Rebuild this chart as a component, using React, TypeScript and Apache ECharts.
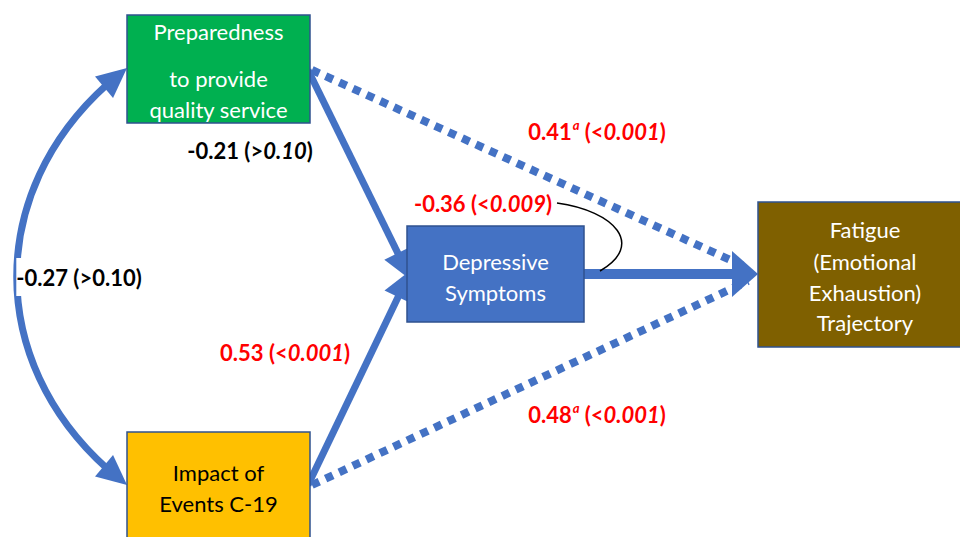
import React, { useEffect, useRef } from 'react';
import * as echarts from 'echarts';

// ---------- diagram data (in diagram units, 960 x 537 space) ----------
const nodeLines: string[][] = [
  ['Preparedness', 'to provide', 'quality service'],
  ['Impact of', 'Events C-19'],
  ['Depressive', 'Symptoms'],
  ['Fatigue', '(Emotional', 'Exhaustion)', 'Trajectory'],
];
const nodeLineY: number[][] = [
  [31, 78, 109],
  [472, 503],
  [261, 292],
  [229, 261, 292, 322],
];
const nodeBox: number[][] = [
  [127, 15, 310, 123],
  [127, 432, 310, 548],
  [407, 226, 584, 322],
  [758, 202, 970, 347],
];

// structural paths (start, end) and the covariance curve
const directPaths: number[][] = [
  [308, 70, 411, 280],
  [308, 485, 411, 270],
  [584, 274, 758, 274],
];
const indirectPaths: number[][] = [
  [312, 70, 748, 268],
  [312, 485, 748, 281],
];
const covCurve: number[][] = [[127, 68, -20, 180, -20, 373, 127, 485]];
const noteCurve: number[][] = [[557, 203, 615, 211, 645, 245, 600, 271]];

// coefficient labels
const coefText = ['-0.21', '-0.27', '0.41', '-0.36', '0.53', '0.48'];
const coefSup = ['', '', 'a', '', '', 'a'];
const pSign = ['>', '>', '<', '<', '<', '<'];
const pValue = ['0.10', '0.10', '0.001', '0.009', '0.001', '0.001'];
const pValueItalic = [true, false, true, true, true, true];
const coefSignificant = [false, false, true, true, true, true];
const labelAt: number[][] = [
  [250, 150],
  [79, 277],
  [597, 131],
  [483, 203],
  [285, 352],
  [597, 414],
];

// ---------- styles ----------
const nodeFill = ['#00B050', '#FFC000', '#4472C4', '#7F6000'];
const nodeTextColor = ['#FFFFFF', '#000000', '#FFFFFF', '#FFFFFF'];
const BLUE = '#4472C4';
const directWidth = [7, 7, 10];
const directArrow = [[30, 15], [30, 15], [26, 23]];
const FONT = 'Lato, "Open Sans", sans-serif';
const LABEL_SIZE = 22;

type Pt = number[];

function arrowHead(tip: Pt, from: Pt, len: number, hw: number, color: string) {
  const dx = tip[0] - from[0];
  const dy = tip[1] - from[1];
  const L = Math.hypot(dx, dy) || 1;
  const ux = dx / L, uy = dy / L;
  const bx = tip[0] - ux * len, by = tip[1] - uy * len;
  const px = -uy, py = ux;
  return {
    type: 'polygon',
    shape: { points: [[tip[0], tip[1]], [bx + px * hw, by + py * hw], [bx - px * hw, by - py * hw]] },
    style: { fill: color },
  };
}

function splitCubic(p: Pt[], t: number): [Pt[], Pt[]] {
  const lerp = (a: Pt, b: Pt) => [a[0] + (b[0] - a[0]) * t, a[1] + (b[1] - a[1]) * t];
  const [p0, p1, p2, p3] = p;
  const p01 = lerp(p0, p1), p12 = lerp(p1, p2), p23 = lerp(p2, p3);
  const p012 = lerp(p01, p12), p123 = lerp(p12, p23);
  const m = lerp(p012, p123);
  return [[p0, p01, p012, m], [m, p123, p23, p3]];
}

function cubicAt(p: Pt[], t: number): Pt {
  const mt = 1 - t;
  const a = mt * mt * mt, b = 3 * mt * mt * t, c = 3 * mt * t * t, d = t * t * t;
  return [
    a * p[0][0] + b * p[1][0] + c * p[2][0] + d * p[3][0],
    a * p[0][1] + b * p[1][1] + c * p[2][1] + d * p[3][1],
  ];
}

function findT(p: Pt[], fromEnd: boolean, dist: number): number {
  const ref = fromEnd ? p[3] : p[0];
  for (let i = 1; i <= 400; i++) {
    const t = fromEnd ? 1 - i / 400 : i / 400;
    const q = cubicAt(p, t);
    if (Math.hypot(q[0] - ref[0], q[1] - ref[1]) >= dist) return t;
  }
  return fromEnd ? 0 : 1;
}

function bezierShape(p: Pt[]) {
  return {
    x1: p[0][0], y1: p[0][1], cpx1: p[1][0], cpy1: p[1][1],
    cpx2: p[2][0], cpy2: p[2][1], x2: p[3][0], y2: p[3][1],
  };
}

function labelRich(i: number): string {
  const c = coefSignificant[i] ? 'r' : 'k';
  let s = `{${c}|${coefText[i]}}`;
  if (coefSup[i]) s += `{${c}s|${coefSup[i]}}`;
  s += `{${c}| (${pSign[i]}}`;
  s += `{${c}${pValueItalic[i] ? 'i' : ''}|${pValue[i]}}`;
  s += `{${c}|)}`;
  return s;
}

const richStyles: any = {};
[['r', '#FF0000'], ['k', '#000000']].forEach(([k, col]) => {
  richStyles[k] = { fill: col, fontFamily: FONT, fontWeight: 'bold', fontSize: LABEL_SIZE, lineHeight: 28 };
  richStyles[k + 'i'] = {
    fill: col, fontFamily: FONT, fontWeight: 'bold', fontStyle: 'italic', fontSize: LABEL_SIZE, lineHeight: 28,
  };
  richStyles[k + 's'] = {
    fill: col, fontFamily: FONT, fontWeight: 'bold', fontStyle: 'italic', fontSize: 13,
    lineHeight: 28, verticalAlign: 'top', padding: [1, 0, 0, 1],
  };
});

export default function App() {
  const ref = useRef<HTMLDivElement>(null);

  useEffect(() => {
    if (!ref.current) return;
    const chart = echarts.init(ref.current, undefined, { renderer: 'svg' });

    const option: any = {
      animation: false,
      backgroundColor: '#FFFFFF',
      grid: { left: 0, right: 0, top: 0, bottom: 0 },
      xAxis: { type: 'value', min: 0, max: 960, show: false },
      yAxis: { type: 'value', min: 0, max: 537, inverse: true, show: false },
      series: [
        // indirect (dotted) paths
        {
          type: 'custom',
          coordinateSystem: 'cartesian2d',
          clip: false,
          z: 1,
          data: indirectPaths,
          renderItem: (params: any, api: any) => {
            const a = api.coord([api.value(0), api.value(1)]);
            const b = api.coord([api.value(2), api.value(3)]);
            return {
              type: 'line',
              shape: { x1: a[0], y1: a[1], x2: b[0], y2: b[1] },
              style: { stroke: BLUE, lineWidth: 8, lineDash: [8, 7], lineCap: 'butt' },
            };
          },
        },
        // direct (solid) paths with arrowheads
        {
          type: 'custom',
          coordinateSystem: 'cartesian2d',
          clip: false,
          z: 2,
          data: directPaths,
          renderItem: (params: any, api: any) => {
            const i = params.dataIndex;
            const a = api.coord([api.value(0), api.value(1)]);
            const b = api.coord([api.value(2), api.value(3)]);
            const [len, hw] = directArrow[i];
            const L = Math.hypot(b[0] - a[0], b[1] - a[1]);
            const k = (L - len * 0.8) / L;
            const e = [a[0] + (b[0] - a[0]) * k, a[1] + (b[1] - a[1]) * k];
            return {
              type: 'group',
              children: [
                {
                  type: 'line',
                  shape: { x1: a[0], y1: a[1], x2: e[0], y2: e[1] },
                  style: { stroke: BLUE, lineWidth: directWidth[i] },
                },
                arrowHead(b, a, len, hw, BLUE),
              ],
            };
          },
        },
        // covariance double-headed curve
        {
          type: 'custom',
          coordinateSystem: 'cartesian2d',
          clip: false,
          z: 2,
          data: covCurve,
          renderItem: (params: any, api: any) => {
            const p: Pt[] = [0, 1, 2, 3].map((j) => api.coord([api.value(2 * j), api.value(2 * j + 1)]));
            const len = 30, hw = 14;
            const t0 = findT(p, false, len * 0.85);
            const t1 = findT(p, true, len * 0.85);
            const right = splitCubic(p, t0)[1];
            const mid = splitCubic(right, (t1 - t0) / (1 - t0))[0];
            const s0 = cubicAt(p, findT(p, false, len));
            const s1 = cubicAt(p, findT(p, true, len));
            return {
              type: 'group',
              children: [
                {
                  type: 'bezierCurve',
                  shape: bezierShape(mid),
                  style: { stroke: BLUE, lineWidth: 7, fill: 'none' },
                },
                arrowHead(p[0], s0, len, hw, BLUE),
                arrowHead(p[3], s1, len, hw, BLUE),
              ],
            };
          },
        },
        // boxes
        {
          type: 'custom',
          coordinateSystem: 'cartesian2d',
          clip: false,
          z: 3,
          data: nodeBox,
          renderItem: (params: any, api: any) => {
            const i = params.dataIndex;
            const a = api.coord([api.value(0), api.value(1)]);
            const b = api.coord([api.value(2), api.value(3)]);
            const cx = (a[0] + b[0]) / 2;
            const children: any[] = [
              {
                type: 'rect',
                shape: { x: a[0], y: a[1], width: b[0] - a[0], height: b[1] - a[1] },
                style: { fill: nodeFill[i], stroke: '#2F528F', lineWidth: 1.5 },
              },
            ];
            nodeLines[i].forEach((txt, j) => {
              const y = api.coord([0, nodeLineY[i][j]])[1];
              children.push({
                type: 'text',
                x: i === 3 ? api.coord([865, 0])[0] : cx,
                y,
                style: {
                  text: txt,
                  fill: nodeTextColor[i],
                  fontFamily: FONT,
                  fontSize: 22,
                  align: 'center',
                  verticalAlign: 'middle',
                },
              });
            });
            return { type: 'group', children };
          },
        },
        // connector curve for the mediated effect label
        {
          type: 'custom',
          coordinateSystem: 'cartesian2d',
          clip: false,
          z: 4,
          data: noteCurve,
          renderItem: (params: any, api: any) => {
            const p: Pt[] = [0, 1, 2, 3].map((j) => api.coord([api.value(2 * j), api.value(2 * j + 1)]));
            return {
              type: 'bezierCurve',
              shape: bezierShape(p),
              style: { stroke: '#000000', lineWidth: 1.5, fill: 'none' },
            };
          },
        },
        // coefficient labels
        {
          type: 'custom',
          coordinateSystem: 'cartesian2d',
          clip: false,
          z: 5,
          data: labelAt,
          renderItem: (params: any, api: any) => {
            const i = params.dataIndex;
            const c = api.coord([api.value(0), api.value(1)]);
            return {
              type: 'text',
              x: c[0],
              y: c[1],
              style: {
                text: labelRich(i),
                rich: richStyles,
                align: 'center',
                verticalAlign: 'middle',
                backgroundColor: i === 1 ? '#FFFFFF' : 'transparent',
                padding: i === 1 ? [5, 0, 5, 0] : 0,
              },
            };
          },
        },
      ],
    };

    chart.setOption(option);
    return () => chart.dispose();
  }, []);

  return (
    <div
      ref={ref}
      style={{ position: 'fixed', left: 0, top: 0, width: 960, height: 537 }}
    />
  );
}
